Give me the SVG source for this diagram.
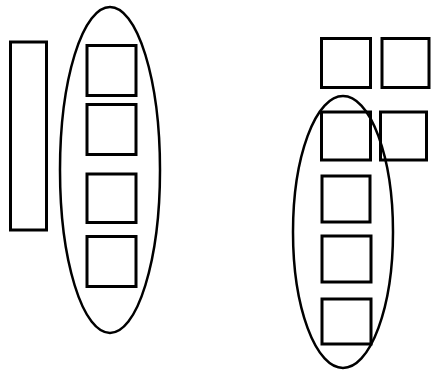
<svg xmlns="http://www.w3.org/2000/svg" width="432" height="371" viewBox="0 0 432 371">
<style>
.b{fill:none;stroke:#000;stroke-width:3}
.e{fill:none;stroke:#000;stroke-width:2.5}
</style>
<rect width="432" height="371" fill="#fff"/>
<g id="tall"><rect class="b" x="10.5" y="42" width="36" height="188"/></g>
<g id="ellipseL"><ellipse class="e" cx="110" cy="170" rx="50" ry="163"/></g>
<g id="l1"><rect class="b" x="87" y="45.5" width="49" height="50"/></g>
<g id="l2"><rect class="b" x="87" y="104.5" width="49" height="50"/></g>
<g id="l3"><rect class="b" x="87" y="174" width="49" height="48.5"/></g>
<g id="l4"><rect class="b" x="87" y="236.5" width="49" height="50"/></g>
<g id="r1"><rect class="b" x="321.5" y="38.5" width="49" height="49"/></g>
<g id="r2"><rect class="b" x="382" y="38.5" width="47" height="49"/></g>
<g id="r3"><rect class="b" x="321.5" y="112" width="49" height="48"/></g>
<g id="r4"><rect class="b" x="380.5" y="112" width="46" height="48"/></g>
<g id="r5"><rect class="b" x="322" y="176" width="48" height="46"/></g>
<g id="r6"><rect class="b" x="322" y="236" width="49" height="46"/></g>
<g id="r7"><rect class="b" x="322" y="299" width="49" height="45"/></g>
<g id="ellipseR"><ellipse class="e" cx="343" cy="232" rx="50" ry="136"/></g>
</svg>
